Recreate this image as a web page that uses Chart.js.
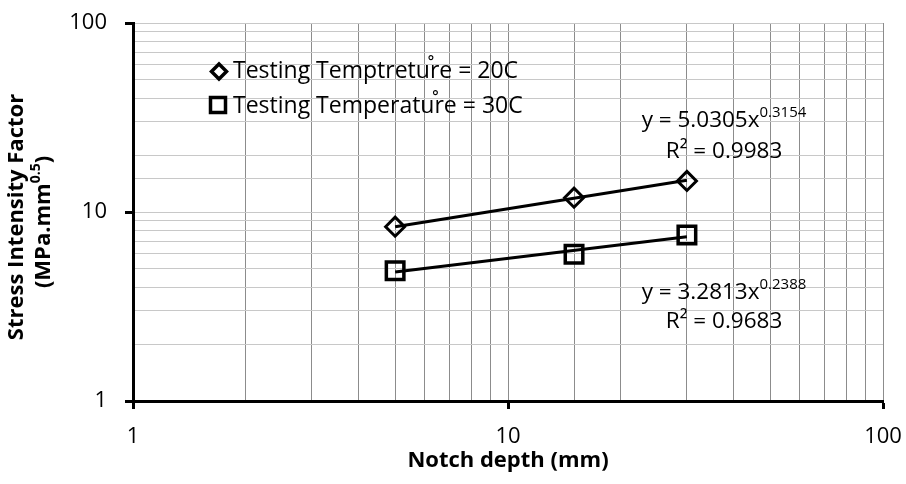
<!DOCTYPE html>
<html>
<head>
<meta charset="utf-8">
<script src="https://cdn.jsdelivr.net/npm/chart.js@4.4.0/dist/chart.umd.min.js"></script>
<style>
    html, body { margin: 0; padding: 0; background: #fff; }
</style>
</head>
<body>
<canvas id="grafic-entalla" width="906" height="484"></canvas>
<script>
// Notch depth (mm) and stress intensity factor for each test temperature
var depths = [5, 15, 30];
var factor20 = [8.36, 11.9, 14.6];
var factor30 = [4.89, 5.97, 7.55];

// Power fits y = a * x^b shown on the chart
var fitCoef = [5.0305, 3.2813];
var fitExp = [0.3154, 0.2388];
var fitR2 = ['0.9983', '0.9683'];

var seriesNames = ['Testing Temptreture = 20C', 'Testing Temperature = 30C'];
var axisTicks = [1, 10, 100];

var FONT = '"Open Sans", sans-serif';

function trendPoints(i) {
    var x0 = depths[0];
    var x1 = depths[depths.length - 1];
    return [
        { x: x0, y: fitCoef[i] * Math.pow(x0, fitExp[i]) },
        { x: x1, y: fitCoef[i] * Math.pow(x1, fitExp[i]) }
    ];
}

function toPoints(ys) {
    var punts = [];
    for (var i = 0; i < depths.length; i++) {
        punts.push({ x: depths[i], y: ys[i] });
    }
    return punts;
}

function isMajor(v) {
    return axisTicks.indexOf(v) >= 0;
}

function drawDiamond(ctx, x, y, r) {
    ctx.beginPath();
    ctx.moveTo(x, y - r);
    ctx.lineTo(x + r, y);
    ctx.lineTo(x, y + r);
    ctx.lineTo(x - r, y);
    ctx.closePath();
    ctx.stroke();
}

function drawSquare(ctx, x, y, h) {
    ctx.beginPath();
    ctx.rect(x - h, y - h, 2 * h, 2 * h);
    ctx.stroke();
}

// text with a superscript tail, centred on cx; returns the total width
function drawSup(ctx, main, sup, cx, y, size, supSize, rise, bold) {
    var w = bold ? 'bold ' : '';
    ctx.font = w + size + 'px ' + FONT;
    var wMain = ctx.measureText(main).width;
    ctx.font = w + supSize + 'px ' + FONT;
    var wSup = ctx.measureText(sup).width;
    var x = cx - (wMain + wSup) / 2;
    ctx.textAlign = 'left';
    ctx.font = w + size + 'px ' + FONT;
    ctx.fillText(main, x, y);
    ctx.font = w + supSize + 'px ' + FONT;
    ctx.fillText(sup, x + wMain, y - rise);
    return wMain + wSup;
}

var textos = {
    id: 'textos',
    afterDraw: function(chart) {
        var ctx = chart.ctx;
        ctx.save();
        ctx.fillStyle = '#000';
        ctx.strokeStyle = '#000';
        ctx.textBaseline = 'alphabetic';

        // legend
        var legY = [78, 113];
        ctx.lineWidth = 3.5;
        drawDiamond(ctx, 219, 71.5, 7.5);
        drawSquare(ctx, 218, 105, 7.5);
        for (var i = 0; i < seriesNames.length; i++) {
            ctx.font = '23px ' + FONT;
            ctx.textAlign = 'left';
            ctx.fillText(seriesNames[i], 233, legY[i]);
            var prefix = seriesNames[i].substring(0, seriesNames[i].indexOf('re ='));
            var rx = 233 + ctx.measureText(prefix).width;
            ctx.textAlign = 'center';
            ctx.fillText('\u02DA', rx + 1, legY[i] - 3);
        }

        // fit equations
        var eqY = [127, 299];
        var r2Y = [158, 328];
        for (var j = 0; j < fitCoef.length; j++) {
            drawSup(ctx, 'y = ' + fitCoef[j].toFixed(4) + 'x', fitExp[j].toFixed(4), 724, eqY[j], 22.5, 15, 10, false);
            ctx.font = '22.5px ' + FONT;
            ctx.textAlign = 'center';
            ctx.fillText('R\u00B2 = ' + fitR2[j], 724, r2Y[j]);
        }

        // axis titles
        ctx.textAlign = 'center';
        ctx.font = 'bold 22px ' + FONT;
        ctx.fillText('Notch depth (mm)', 508, 467);

        ctx.save();
        ctx.translate(23, 217);
        ctx.rotate(-Math.PI / 2);
        ctx.font = 'bold 22px ' + FONT;
        ctx.fillText('Stress Intensity Factor', 0, 0);
        ctx.restore();

        ctx.save();
        ctx.translate(50, 222);
        ctx.rotate(-Math.PI / 2);
        ctx.font = 'bold 22px ' + FONT;
        var wClose = ctx.measureText(')').width;
        var wAll = drawSup(ctx, '(MPa.mm', '0.5', -wClose / 2, 0, 22, 14, 10, true);
        ctx.font = 'bold 22px ' + FONT;
        ctx.textAlign = 'left';
        ctx.fillText(')', -wClose / 2 + wAll / 2, 0);
        ctx.restore();

        ctx.restore();
    }
};

function tickLabel(v) {
    return isMajor(v) ? String(v) : '';
}

var ctx = document.getElementById('grafic-entalla').getContext('2d');

var grafic = new Chart(ctx, {
    type: 'scatter',
    data: {
        datasets: [{
            data: trendPoints(0),
            showLine: true,
            borderColor: '#000',
            borderWidth: 3,
            pointRadius: 0
        }, {
            data: trendPoints(1),
            showLine: true,
            borderColor: '#000',
            borderWidth: 3,
            pointRadius: 0
        }, {
            label: seriesNames[0],
            data: toPoints(factor20),
            showLine: false,
            pointStyle: 'rectRot',
            pointRadius: 9.5,
            borderColor: '#000',
            backgroundColor: 'rgba(0,0,0,0)',
            borderWidth: 3
        }, {
            label: seriesNames[1],
            data: toPoints(factor30),
            showLine: false,
            pointStyle: 'rect',
            pointRadius: 12.4,
            borderColor: '#000',
            backgroundColor: 'rgba(0,0,0,0)',
            borderWidth: 3.5
        }]
    },
    options: {
        responsive: false,
        animation: false,
        layout: { padding: { left: 0, right: 23, top: 23, bottom: 0 } },
        plugins: {
            legend: { display: false },
            tooltip: { enabled: false }
        },
        scales: {
            x: {
                type: 'logarithmic',
                min: 1,
                max: 100,
                afterFit: function(s) {
                    s.height = 83;
                    s.paddingLeft = 0;
                    s.paddingRight = 0;
                },
                border: { color: '#000', width: 3 },
                grid: {
                    color: '#8c8c8c',
                    lineWidth: 1,
                    tickLength: 8,
                    tickWidth: 3,
                    tickColor: function(c) { return c.tick && isMajor(c.tick.value) ? '#000' : 'rgba(0,0,0,0)'; }
                },
                ticks: {
                    autoSkip: false,
                    maxRotation: 0,
                    padding: 15,
                    color: '#000',
                    font: { family: FONT, size: 22 },
                    callback: tickLabel
                }
            },
            y: {
                type: 'logarithmic',
                min: 1,
                max: 100,
                afterFit: function(s) {
                    s.width = 133;
                    s.paddingTop = 0;
                    s.paddingBottom = 0;
                },
                border: { color: '#000', width: 3 },
                grid: {
                    color: '#c8c8c8',
                    lineWidth: 1,
                    tickLength: 8,
                    tickWidth: 3,
                    tickColor: function(c) { return c.tick && isMajor(c.tick.value) ? '#000' : 'rgba(0,0,0,0)'; }
                },
                ticks: {
                    autoSkip: false,
                    padding: 18,
                    color: '#000',
                    font: { family: FONT, size: 22 },
                    callback: tickLabel
                }
            }
        }
    },
    plugins: [textos]
});
</script>
</body>
</html>
